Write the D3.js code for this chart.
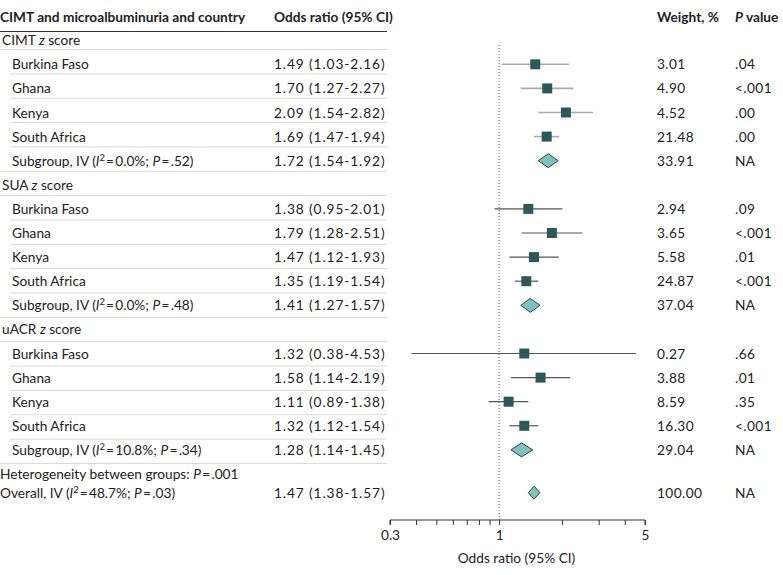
<!DOCTYPE html>
<html><head><meta charset="utf-8">
<script src="https://cdn.jsdelivr.net/npm/d3@7"></script>
<style>
body{margin:0;background:#fff;}
svg{display:block;}
text{font-family:Lato,"Open Sans",sans-serif;font-size:13.7px;fill:#222;}
.num{letter-spacing:0.9px;}
.col{letter-spacing:0.4px;}
</style></head><body>
<svg id="c" width="783" height="575"></svg>
<script>
const groups = ["CIMT", "SUA", "uACR"];
const countries = ["Burkina Faso", "Ghana", "Kenya", "South Africa"];
const orVals = [[1.49, 1.70, 2.09, 1.69], [1.38, 1.79, 1.47, 1.35], [1.32, 1.58, 1.11, 1.32]];
const loVals = [[1.03, 1.27, 1.54, 1.47], [0.95, 1.28, 1.12, 1.19], [0.38, 1.14, 0.89, 1.12]];
const hiVals = [[2.16, 2.27, 2.82, 1.94], [2.01, 2.51, 1.93, 1.54], [4.53, 2.19, 1.38, 1.54]];
const weights = [["3.01", "4.90", "4.52", "21.48"], ["2.94", "3.65", "5.58", "24.87"], ["0.27", "3.88", "8.59", "16.30"]];
const pVals = [[".04", "<.001", ".00", ".00"], [".09", "<.001", ".01", "<.001"], [".66", ".01", ".35", "<.001"]];
const subOr = [1.72, 1.41, 1.28];
const subLo = [1.54, 1.27, 1.14];
const subHi = [1.92, 1.57, 1.45];
const subI2 = ["0.0", "0.0", "10.8"];
const subP = [".52", ".48", ".34"];
const subWeight = ["33.91", "37.04", "29.04"];
const overall = {or: 1.47, lo: 1.38, hi: 1.57, i2: "48.7", p: ".03", weight: "100.00"};
const hetP = ".001";
const axisTicks = [0.3, 0.4, 0.5, 0.6, 0.7, 0.8, 0.9, 1, 2, 3, 4, 5];
const axisLabels = [0.3, 1, 5];

const svg = d3.select("#c");
const x = d3.scaleLog().domain([0.3, 5]).range([390, 645]);
const rowY = d3.scaleLinear().domain([0, 1]).range([40.2, 64.3]);
const lineY = d3.scaleLinear().domain([0, 1]).range([49, 73.35]);

const sqColor = "#2a5a57", diaFill = "#7cc3bf", diaStroke = "#2b4544";
const lineColors = ["#aaaaaa", "#555555", "#555555"];

const rows = [];
groups.forEach((g, gi) => {
  rows.push({type: "header", g: g});
  countries.forEach((c, ci) => rows.push({type: "country", gi, label: c, or: orVals[gi][ci], lo: loVals[gi][ci], hi: hiVals[gi][ci], w: weights[gi][ci], p: pVals[gi][ci]}));
  rows.push({type: "sub", gi, or: subOr[gi], lo: subLo[gi], hi: subHi[gi], i2: subI2[gi], sp: subP[gi], w: subWeight[gi], p: "NA"});
});
rows.forEach((r, i) => r.i = i);

const hy = 22;
svg.append("text").attr("x", 0).attr("y", hy).attr("font-weight", 700).text("CIMT and microalbuminuria and country");
svg.append("text").attr("x", 274).attr("y", hy).attr("font-weight", 700).text("Odds ratio (95% CI)");
svg.append("text").attr("x", 657).attr("y", hy).attr("font-weight", 700).text("Weight, %");
const pv = svg.append("text").attr("x", 735).attr("y", hy).attr("font-weight", 700);
pv.append("tspan").attr("font-style", "italic").text("P");
pv.append("tspan").text(" value");
svg.append("line").attr("x1", 0).attr("x2", 387).attr("y1", 31.5).attr("y2", 31.5).attr("stroke", "#333").attr("stroke-width", 1);

svg.append("g").selectAll("line").data(rows).join("line")
  .attr("x1", d => d.type === "country" ? 10 : 0).attr("x2", 387)
  .attr("y1", d => lineY(d.i) + 0.5).attr("y2", d => lineY(d.i) + 0.5)
  .attr("stroke", "#d9d9d3").attr("stroke-width", 1);

svg.append("line").attr("x1", x(1)).attr("x2", x(1)).attr("y1", 45).attr("y2", 520)
  .attr("stroke", "#555").attr("stroke-width", 1).attr("stroke-dasharray", "1,2");

function eq(t, val) {
  t.append("tspan").attr("dx", 1.3).text("=");
  t.append("tspan").attr("dx", 1.3).text(val);
}
function subLabel(t, prefix, i2, p) {
  t.append("tspan").text(prefix + " (");
  t.append("tspan").attr("font-style", "italic").text("I");
  t.append("tspan").attr("font-size", "9.5px").attr("dy", -5).text("2");
  t.append("tspan").attr("dy", 5).attr("dx", 1).text("=");
  t.append("tspan").attr("dx", 1.3).text(i2 + "%; ");
  t.append("tspan").attr("font-style", "italic").text("P");
  eq(t, p + ")");
}
const fmt = v => v.toFixed(2);

rows.forEach(r => {
  const y = rowY(r.i), ty = y + 5;
  if (r.type === "header") {
    const t = svg.append("text").attr("x", 2).attr("y", ty);
    t.append("tspan").text(r.g + " ");
    t.append("tspan").attr("font-style", "italic").text("z");
    t.append("tspan").text(" score");
    return;
  }
  if (r.type === "country") {
    svg.append("text").attr("x", 12).attr("y", ty).text(r.label);
  } else {
    subLabel(svg.append("text").attr("x", 12).attr("y", ty), "Subgroup, IV", r.i2, r.sp);
  }
  svg.append("text").attr("class", "num").attr("x", 274).attr("y", ty).text(`${fmt(r.or)} (${fmt(r.lo)}-${fmt(r.hi)})`);
  svg.append("text").attr("class", "col").attr("x", 657).attr("y", ty).text(r.w);
  svg.append("text").attr("class", "col").attr("x", 735).attr("y", ty).text(r.p);
  if (r.type === "country") {
    svg.append("line").attr("x1", x(r.lo)).attr("x2", x(r.hi)).attr("y1", y).attr("y2", y)
      .attr("stroke", lineColors[r.gi]).attr("stroke-width", r.gi === 0 ? 1.6 : 1.2);
    svg.append("rect").attr("x", x(r.or) - 5).attr("y", y - 5).attr("width", 10).attr("height", 10)
      .attr("fill", sqColor);
  } else {
    const xm = x(r.or), xl = x(r.lo), xh = x(r.hi), h = 7;
    svg.append("path").attr("d", `M${xl},${y}L${xm},${y - h}L${xh},${y}L${xm},${y + h}Z`)
      .attr("fill", diaFill).attr("stroke", diaStroke).attr("stroke-width", 1);
  }
});

const hetY = rowY(rows.length) + 5;
const ht = svg.append("text").attr("x", 0).attr("y", hetY);
ht.append("tspan").text("Heterogeneity between groups: ");
ht.append("tspan").attr("font-style", "italic").text("P");
eq(ht, hetP);

const oy = 492.7, oty = oy + 5;
subLabel(svg.append("text").attr("x", 0).attr("y", oty), "Overall, IV", overall.i2, overall.p);
svg.append("text").attr("class", "num").attr("x", 274).attr("y", oty).text(`${fmt(overall.or)} (${fmt(overall.lo)}-${fmt(overall.hi)})`);
svg.append("text").attr("class", "col").attr("x", 657).attr("y", oty).text(overall.weight);
svg.append("text").attr("class", "col").attr("x", 735).attr("y", oty).text("NA");
{
  const xm = x(overall.or), xl = x(overall.lo), xh = x(overall.hi), h = 6.5;
  svg.append("path").attr("d", `M${xl},${oy}L${xm},${oy - h}L${xh},${oy}L${xm},${oy + h}Z`)
    .attr("fill", diaFill).attr("stroke", diaStroke).attr("stroke-width", 1);
}

const axis = d3.axisBottom(x).tickValues(axisTicks).tickSize(5)
  .tickFormat(d => axisLabels.includes(d) ? d3.format("~g")(d) : "");
const ag = svg.append("g").attr("transform", "translate(0,520)").call(axis);
ag.select(".domain").attr("stroke", "#333").attr("d", "M390,5V0H645V5");
ag.selectAll(".tick line").attr("stroke", "#333");
ag.selectAll(".tick text").attr("font-family", 'Lato,"Open Sans",sans-serif').attr("font-size", "13.7px").attr("fill", "#222").attr("dy", "0.9em");
svg.append("text").attr("x", (390 + 645) / 2 - 1).attr("y", 563).attr("text-anchor", "middle").text("Odds ratio (95% CI)");
</script>
</body></html>
